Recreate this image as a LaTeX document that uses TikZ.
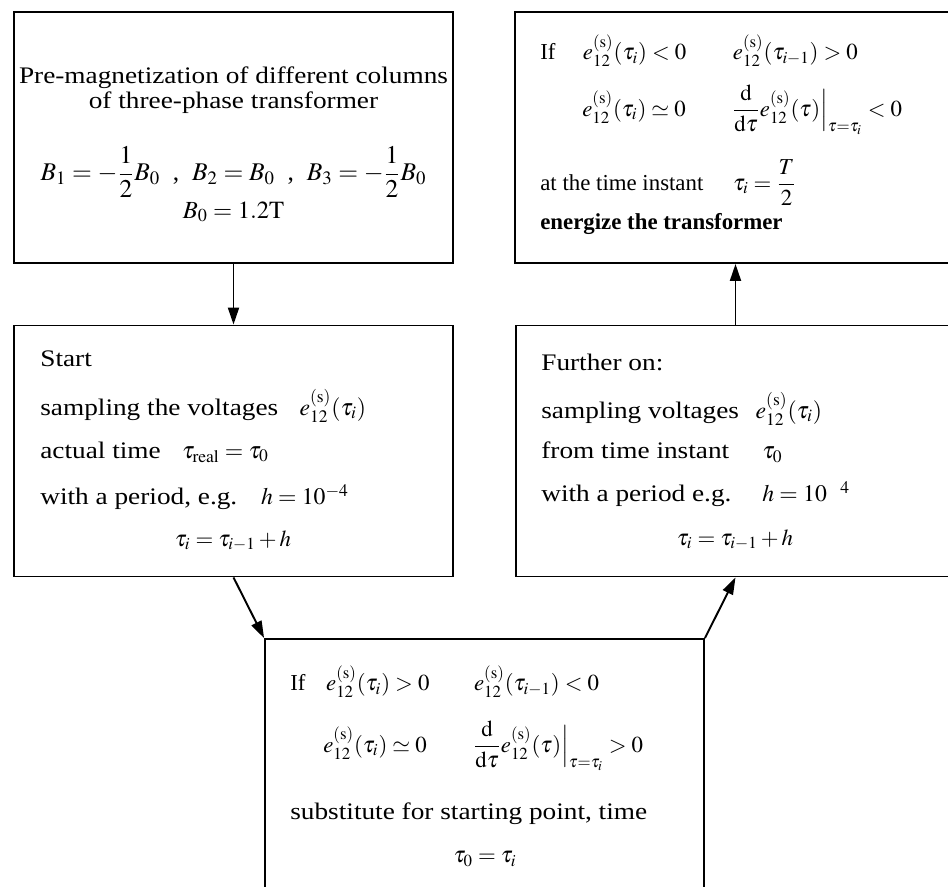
\documentclass[tikz,border=0pt]{standalone}
\usepackage{amsmath}
\usepackage{mathptmx}
\usepackage{fontspec}
\setmainfont{Liberation Serif}
\newfontfamily\widefont[FakeStretch=1.15]{Liberation Serif}
\usepackage{tikz}
\usetikzlibrary{arrows.meta, calc}

\newcommand{\esig}{e_{12}^{(\mathrm{s})}}
\newcommand{\lead}[2]{\makebox[#1][l]{#2}}

\begin{document}
\begin{tikzpicture}[
  x=0.02cm, y=-0.02cm,
  font=\fontsize{13}{16}\selectfont,
  box/.style={rectangle, draw=black, line width=1.1pt,
              minimum width=8.78cm, minimum height=5.02cm},
  ltxt/.style={anchor=west, inner sep=0pt},
  ctxt/.style={inner sep=0pt},
  wide/.style={font=\fontsize{13.5}{16}\selectfont\widefont},
  arr/.style={-{Triangle[length=0.34cm, width=0.22cm]}, line width=1.1pt}
]
\useasboundingbox (0,0) rectangle (948,887);
\clip (0,0) rectangle (948,887);

% boxes
\node[box] (pre)   at (233.5,137.5) {};
\node[box] (ener)  at (734.5,137.5) {};
\node[box] (start) at (233.5,451)   {};
\node[box] (furth) at (735.5,451)   {};
\node[box] (subst) at (484.5,764.5) {};

% pre-magnetization
\node[ctxt, wide] (pre1) at (233.5,78)  {Pre-magnetization of different columns};
\node[ctxt, wide] (pre2) at (233.5,103) {of three-phase transformer};
\node[ctxt, font=\fontsize{14.5}{17}\selectfont] (pre3) at (233.5,172)
  {$B_1 = -\dfrac{1}{2}B_0$\ \ ,\ \ $B_2 = B_0$\ \ ,\ \ $B_3 = -\dfrac{1}{2}B_0$};
\node[ctxt, font=\fontsize{14}{17}\selectfont] (pre4) at (233.5,212) {$B_0 = 1.2\mathrm{T}$};

% energize
\node[ltxt] (ener1) at (540,51)
  {If\hspace{1.2em}\lead{3.0cm}{$\esig(\tau_i) < 0$}$\esig(\tau_{i-1}) > 0$};
\node[ltxt] (ener2) at (582,110)
  {\lead{3.0cm}{$\esig(\tau_i) \simeq 0$}$\dfrac{\mathrm{d}}{\mathrm{d}\tau}\esig(\tau)\Big|_{\tau=\tau_i} < 0$};
\node[ltxt] (ener3) at (540,183)
  {at the time instant\hspace{1.3em}$\tau_i = \dfrac{T}{2}$};
\node[ltxt] (ener4) at (540,224) {\textbf{energize the transformer}};

% start
\node[ltxt, wide] (start1) at (40,359) {Start};
\node[ltxt, wide] (start2) at (40,406)
  {sampling the voltages\hspace{0.9em}$\esig(\tau_i)$};
\node[ltxt, wide] (start3) at (40,452)
  {actual time\hspace{0.9em}$\tau_{\mathrm{real}} = \tau_0$};
\node[ltxt, wide] (start4) at (40,497)
  {with a period, e.g.\hspace{1em}$h = 10^{-4}$};
\node[ctxt] (start5) at (233,541) {$\tau_i = \tau_{i-1} + h$};

% further on
\node[ltxt, wide] (furth1) at (541,362) {Further on:};
\node[ltxt, wide] (furth2) at (541,409)
  {sampling voltages\hspace{0.7em}$\esig(\tau_i)$};
\node[ltxt, wide] (furth3) at (541,452)
  {from time instant\hspace{1.4em}$\tau_0$};
\node[ltxt, wide] (furth4) at (541,494)
  {with a period e.g.\hspace{1.3em}$h = 10^{\phantom{-}4}$};
\node[ctxt] (furth5) at (735,540) {$\tau_i = \tau_{i-1} + h$};

% substitute
\node[ltxt] (subst1) at (290,682)
  {If\hspace{0.9em}\lead{2.96cm}{$\esig(\tau_i) > 0$}$\esig(\tau_{i-1}) < 0$};
\node[ltxt] (subst2) at (323,746)
  {\lead{3.0cm}{$\esig(\tau_i) \simeq 0$}$\dfrac{\mathrm{d}}{\mathrm{d}\tau}\esig(\tau)\Big|_{\tau=\tau_i} > 0$};
\node[ltxt, wide] (subst3) at (290,814) {substitute for starting point, time};
\node[ctxt] (subst4) at (485,859) {$\tau_0 = \tau_i$};

% connectors
\draw[arr] (pre.south) -- (start.north);
\draw[arr] (start.south) -- (subst.north west);
\draw[arr] (subst.north east) -- (furth.south);
\draw[arr] (furth.north) -- (furth.north |- ener.south);
\end{tikzpicture}
\end{document}
